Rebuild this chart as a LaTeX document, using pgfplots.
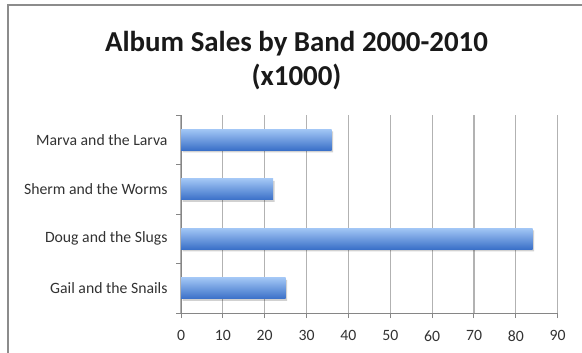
\documentclass[border=0pt]{standalone}
\usepackage{fontspec}
\setmainfont{Carlito}
\usepackage{pgfplots}
\pgfplotsset{compat=1.18}
\definecolor{bartop}{RGB}{162,198,245}
\definecolor{barmid}{RGB}{110,158,227}
\definecolor{barbot}{RGB}{58,112,200}
\definecolor{gridc}{RGB}{178,178,178}
\definecolor{axc}{RGB}{134,134,134}
\definecolor{txt}{RGB}{50,50,50}
\begin{document}
\begin{tikzpicture}[x=1bp,y=1bp]
\useasboundingbox (0,0) rectangle (582,352);
\draw[color={rgb,255:red,140;green,140;blue,140}, line width=1.5bp] (8,-2) -- (8,347) -- (584,347);
\node[font=\fontsize{29}{34}\selectfont\bfseries, anchor=base, text=black!90] at (296.5,301) {Album Sales by Band 2000-2010};
\node[font=\fontsize{29}{34}\selectfont\bfseries, anchor=base, text=black!90] at (296.5,267) {(x1000)};
\begin{axis}[
  at={(181bp,39bp)}, anchor=south west,
  scale only axis, width=376.7bp, height=198bp,
  xmin=0, xmax=90, ymin=-0.5, ymax=3.5,
  axis x line*=bottom, axis y line*=left,
  axis line style={axc, line width=1bp},
  xtick={0,10,...,90},
  ytick={-0.5,0.5,1.5,2.5,3.5},
  yticklabels={},
  extra y ticks={0,1,2,3},
  extra y tick labels={Gail and the Snails, Doug and the Slugs, Sherm and the Worms, Marva and the Larva},
  extra y tick style={major tick length=0pt, yticklabel style={xshift=-10bp}},
  tick align=outside,
  major tick length=5bp,
  tick style={axc, line width=1bp},
  xmajorgrids,
  grid style={gridc, line width=1.1bp},
  ticklabel style={font=\fontsize{15.8}{18}\selectfont, text=txt},
  xticklabel style={yshift=-9bp},
  /pgf/number format/assume math mode=true,
  clip=false,
  shadowbar/.style={xbar, bar width=21bp, bar shift=0pt, draw=none, fill=black, opacity=0.18, xshift=1.5bp, yshift=-2bp},
  mainbar/.style={xbar, bar width=21bp, bar shift=0pt, draw=none, top color=bartop, middle color=barmid, bottom color=barbot},
]
\addplot[shadowbar] coordinates {(25,0) (84,1) (22,2) (36,3)};
\addplot[mainbar] coordinates {(25,0)};
\addplot[mainbar] coordinates {(84,1)};
\addplot[mainbar] coordinates {(22,2)};
\addplot[mainbar] coordinates {(36,3)};
\end{axis}
\end{tikzpicture}
\end{document}
